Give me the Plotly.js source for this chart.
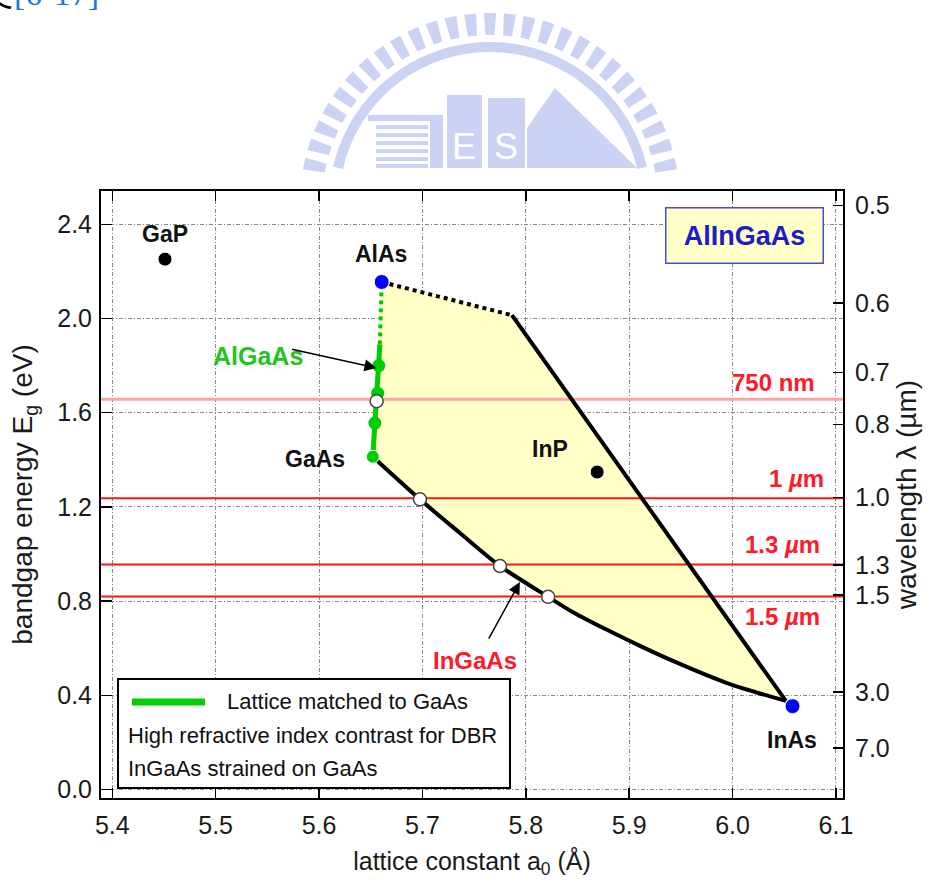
<!DOCTYPE html>
<html><head><meta charset="utf-8">
<script src="https://cdn.plot.ly/plotly-3.0.1.min.js"></script>
<style>html,body{margin:0;padding:0;background:#fff;}#chart{width:932px;height:888px;}</style>
</head><body><div id="chart"></div>
<script>
// ---------------- data ----------------
const compoundNames   = ['GaP', 'AlAs', 'GaAs', 'InP', 'InAs'];
const compoundLattice = [5.451, 5.6606, 5.652, 5.869, 6.058];
const compoundGap     = [2.252, 2.155, 1.413, 1.348, 0.354];

// AlGaAs (lattice matched to GaAs) line
const algaasSolidX  = [5.652, 5.6588];
const algaasSolidY  = [1.413, 1.89];
const algaasDottedX = [5.6588, 5.6606];
const algaasDottedY = [1.89, 2.155];
const algaasDotsX   = [5.6578, 5.6567, 5.654];
const algaasDotsY   = [1.80, 1.683, 1.556];

// open circles (DBR contrast points / strained InGaAs)
const openDotsX = [5.6557, 5.6976, 5.775, 5.8216];
const openDotsY = [1.649, 1.232, 0.949, 0.818];

// AlInGaAs region boundary
const topEdgeX   = [5.6606, 5.7866];
const topEdgeY   = [2.155, 2.014];
const rightEdgeX = [5.7866, 6.0515];
const rightEdgeY = [2.014, 0.376];
const ingaasX = [5.652, 5.6976, 5.7363, 5.775, 5.8216, 5.8456, 5.8785, 5.9104, 5.9423, 5.9946, 6.0515];
const ingaasY = [1.413, 1.232, 1.089, 0.949, 0.818, 0.753, 0.678, 0.610, 0.546, 0.452, 0.376];

// wavelength reference lines
const lineLabels = ['750 nm', '1 <i>µ</i>m', '1.3 <i>µ</i>m', '1.5 <i>µ</i>m'];
const lineEnergy = [1.657, 1.237, 0.955, 0.820];

// axes
const xTicks = [5.4, 5.5, 5.6, 5.7, 5.8, 5.9, 6.0, 6.1];
const yTicks = [0.0, 0.4, 0.8, 1.2, 1.6, 2.0, 2.4];
const wavelengthTicks = [0.5, 0.6, 0.7, 0.8, 1.0, 1.3, 1.5, 3.0, 7.0];
const xRange = [5.3891, 6.1068];
const yRange = [-0.0361, 2.5414];

// ---------------- helpers ----------------
const FONT = 'Liberation Sans, Arial, Helvetica, sans-serif';
const L = 101, R = 843, T = 191, B = 798;
const px = (x) => (x - L) / (R - L);
const py = (y) => (B - y) / (B - T);
const P = (x, y) => px(x).toFixed(5) + ',' + py(y).toFixed(5);

// ---------------- traces ----------------
const polyX = topEdgeX.concat([rightEdgeX[1]]).concat(ingaasX.slice().reverse()).concat([topEdgeX[0]]);
const polyY = topEdgeY.concat([rightEdgeY[1]]).concat(ingaasY.slice().reverse()).concat([topEdgeY[0]]);

const traces = [];
traces.push({x: polyX, y: polyY, type: 'scatter', mode: 'lines', fill: 'toself',
  fillcolor: '#ffffc6', line: {width: 0, shape: 'linear'}, hoverinfo: 'skip', showlegend: false});

lineEnergy.forEach((e, i) => {
  traces.push({x: xRange, y: [e, e], type: 'scatter', mode: 'lines', showlegend: false,
    hoverinfo: 'skip', line: {color: i === 0 ? '#ffa3a3' : '#ff1414', width: i === 0 ? 3 : 2}});
});

traces.push({x: topEdgeX, y: topEdgeY, type: 'scatter', mode: 'lines', showlegend: false,
  line: {color: '#000', width: 4, dash: 'dot'}});
traces.push({x: rightEdgeX, y: rightEdgeY, type: 'scatter', mode: 'lines', showlegend: false,
  line: {color: '#000', width: 4}});
traces.push({x: ingaasX, y: ingaasY, type: 'scatter', mode: 'lines', showlegend: false,
  line: {color: '#000', width: 4, shape: 'spline', smoothing: 0.8}});

traces.push({x: algaasDottedX, y: algaasDottedY, type: 'scatter', mode: 'lines', showlegend: false,
  line: {color: '#00cc00', width: 4, dash: 'dot'}});
traces.push({x: algaasSolidX, y: algaasSolidY, type: 'scatter', mode: 'lines', showlegend: false,
  line: {color: '#00cc00', width: 5}});

traces.push({x: algaasDotsX, y: algaasDotsY, type: 'scatter', mode: 'markers', showlegend: false,
  marker: {color: '#00cc00', size: 13, opacity: 1}});
traces.push({x: compoundLattice, y: compoundGap, type: 'scatter', mode: 'markers', showlegend: false,
  text: compoundNames,
  marker: {color: ['#000', '#0000ff', '#00cc00', '#000', '#0000ff'], size: [14, 15, 13, 14, 15], opacity: 1}});
traces.push({x: openDotsX, y: openDotsY, type: 'scatter', mode: 'markers', showlegend: false,
  marker: {color: '#fff', size: 13, opacity: 1, line: {color: '#444', width: 1.5}}});

// y2 carrier trace (invisible)
traces.push({x: [xRange[0]], y: [yRange[0]], yaxis: 'y2', type: 'scatter', mode: 'markers',
  marker: {opacity: 0}, showlegend: false, hoverinfo: 'skip'});

// ---------------- annotations ----------------
const ann = [];
const labelShift = {GaP: [0, 25], AlAs: [-1, 28], GaAs: [-58, -2], InP: [-47, 23], InAs: [-1, -34]};
compoundNames.forEach((n, i) => {
  ann.push({x: compoundLattice[i], y: compoundGap[i], xref: 'x', yref: 'y', text: '<b>' + n + '</b>',
    showarrow: false, xanchor: 'center', yanchor: 'middle', xshift: labelShift[n][0], yshift: labelShift[n][1],
    font: {family: FONT, size: 23, color: '#111'}});
});
ann.push({x: 5.541, y: 1.841, xref: 'x', yref: 'y', text: '<b>AlGaAs</b>', showarrow: false,
  xanchor: 'center', yanchor: 'middle', font: {family: FONT, size: 25, color: '#22c422'}});
ann.push({x: 5.7506, y: 0.546, xref: 'x', yref: 'y', text: '<b>InGaAs</b>', showarrow: false,
  xanchor: 'center', yanchor: 'middle', font: {family: FONT, size: 24, color: '#ff1a2a'}});
// arrows
ann.push({x: 5.6555, y: 1.79, xref: 'x', yref: 'y', ax: -86, ay: -19, text: '', showarrow: true,
  arrowhead: 2, arrowsize: 1.6, arrowwidth: 1.5, arrowcolor: '#000'});
ann.push({x: 5.7943, y: 0.881, xref: 'x', yref: 'y', ax: -32, ay: 58, text: '', showarrow: true,
  arrowhead: 2, arrowsize: 1.6, arrowwidth: 1.5, arrowcolor: '#000'});
// wavelength line labels
const lineLabelShift = [17, 20, 20, -20];
const lineLabelRight = [817, 826, 822, 822];
lineEnergy.forEach((e, i) => {
  ann.push({x: px(lineLabelRight[i]), y: e, xref: 'paper', yref: 'y', xanchor: 'right', yanchor: 'middle',
    text: '<b>' + lineLabels[i] + '</b>', showarrow: false, yshift: lineLabelShift[i],
    font: {family: FONT, size: 24, color: '#ff1a2a'}});
});
// AlInGaAs box
ann.push({x: px(744.5), y: py(235.5), xref: 'paper', yref: 'paper', xanchor: 'center', yanchor: 'middle',
  text: '<b>AlInGaAs</b>', showarrow: false, width: 154, height: 52, borderpad: 1, bgcolor: '#ffffc8',
  bordercolor: '#4a4ae0', borderwidth: 1.5, font: {family: FONT, size: 27, color: '#1c1cc8'}});
// legend texts
ann.push({x: px(225), y: py(701), xref: 'paper', yref: 'paper', xanchor: 'left', yanchor: 'middle', showarrow: false,
  text: 'Lattice matched to GaAs', font: {family: FONT, size: 22, color: '#111'}});
ann.push({x: px(126), y: py(735), xref: 'paper', yref: 'paper', xanchor: 'left', yanchor: 'middle', showarrow: false,
  text: 'High refractive index contrast for DBR', font: {family: FONT, size: 22, color: '#111'}});
ann.push({x: px(126), y: py(768), xref: 'paper', yref: 'paper', xanchor: 'left', yanchor: 'middle', showarrow: false,
  text: 'InGaAs strained on GaAs', font: {family: FONT, size: 22, color: '#111'}});
// reference tag at top-left (cut by page edge)
ann.push({x: px(101), y: py(14), xref: 'paper', yref: 'paper', xanchor: 'right', yanchor: 'bottom',
  showarrow: false, text: '文<span style="color:#1f78d1">[6-17]</span>',
  font: {family: 'Liberation Serif, Times New Roman, serif', size: 34, color: '#000'}});
// watermark letters
ann.push({x: px(464), y: py(147), xref: 'paper', yref: 'paper', xanchor: 'center', yanchor: 'middle',
  showarrow: false, text: 'E', font: {family: FONT, size: 36, color: '#ffffff'}});
ann.push({x: px(506), y: py(147), xref: 'paper', yref: 'paper', xanchor: 'center', yanchor: 'middle',
  showarrow: false, text: 'S', font: {family: FONT, size: 36, color: '#ffffff'}});

// ---------------- shapes ----------------
const WM = '#cbd2f4';
const shapes = [];
// legend box
shapes.push({type: 'rect', xref: 'paper', yref: 'paper', x0: px(118), x1: px(510), y0: py(788), y1: py(679),
  fillcolor: '#fff', line: {color: '#000', width: 2}, layer: 'above'});
shapes.push({type: 'line', xref: 'paper', yref: 'paper', x0: px(132), x1: px(205), y0: py(702), y1: py(702),
  line: {color: '#00d000', width: 7}, layer: 'above'});
// watermark: radial bars
const cx = 490, cy = 203;
for (let a = 12; a <= 168.1; a += 6) {
  const t = a * Math.PI / 180;
  const ux = Math.cos(t), uy = -Math.sin(t), vx = Math.sin(t), vy = Math.cos(t);
  const r1 = 168, r2 = 190, w1 = 4.5, w2 = 6;
  const pts = [
    [cx + r1 * ux - w1 * vx, cy + r1 * uy - w1 * vy],
    [cx + r2 * ux - w2 * vx, cy + r2 * uy - w2 * vy],
    [cx + r2 * ux + w2 * vx, cy + r2 * uy + w2 * vy],
    [cx + r1 * ux + w1 * vx, cy + r1 * uy + w1 * vy]];
  shapes.push({type: 'path', xref: 'paper', yref: 'paper', layer: 'below', fillcolor: WM, line: {width: 0},
    path: 'M' + pts.map(p => P(p[0], p[1])).join('L') + 'Z'});
}
// watermark: arc band
(function () {
  const ri = 151, ro = 161, a0 = 13, a1 = 167;
  let d = '';
  for (let a = a0; a <= a1 + 0.01; a += 2) {
    const t = a * Math.PI / 180;
    d += (d ? 'L' : 'M') + P(cx + ro * Math.cos(t), cy - ro * Math.sin(t));
  }
  for (let a = a1; a >= a0 - 0.01; a -= 2) {
    const t = a * Math.PI / 180;
    d += 'L' + P(cx + ri * Math.cos(t), cy - ri * Math.sin(t));
  }
  shapes.push({type: 'path', xref: 'paper', yref: 'paper', layer: 'below', fillcolor: WM, line: {width: 0}, path: d + 'Z'});
})();
// watermark: blocks
const wmRects = [[368, 115, 443, 121], [430, 115, 443, 168],
  [376, 125, 428, 129], [376, 133, 428, 137], [376, 141, 428, 145], [376, 149, 428, 153], [376, 157, 428, 161], [376, 164, 428, 168],
  [447, 95, 482, 168], [488, 98, 525, 168]];
wmRects.forEach(r => shapes.push({type: 'rect', xref: 'paper', yref: 'paper', layer: 'below',
  x0: px(r[0]), x1: px(r[2]), y0: py(r[3]), y1: py(r[1]), fillcolor: WM, line: {width: 0}}));
shapes.push({type: 'path', xref: 'paper', yref: 'paper', layer: 'below', fillcolor: WM, line: {width: 0},
  path: 'M' + P(527, 168) + 'L' + P(527, 128) + 'L' + P(555, 88) + 'L' + P(637, 168) + 'Z'});

// ---------------- layout ----------------
const tickFont = {family: FONT, size: 25, color: '#1a1a1a'};
const layout = {
  width: 932, height: 888,
  margin: {l: L, r: 932 - R, t: T, b: 888 - B, pad: 0},
  paper_bgcolor: '#fff', plot_bgcolor: '#fff',
  showlegend: false,
  xaxis: {range: xRange, tickvals: xTicks, ticktext: xTicks.map(v => v.toFixed(1)),
    ticks: 'inside', ticklen: 10, tickwidth: 1.5, tickcolor: '#000',
    showline: true, linecolor: '#000', linewidth: 2, mirror: 'ticks',
    showgrid: true, gridcolor: '#8a8a8a', gridwidth: 1, griddash: '4px,2px,1px,2px', zeroline: false,
    tickfont: tickFont, ticklabelstandoff: 4,
    title: {text: 'lattice constant a<sub>0</sub> (Å)', font: {family: FONT, size: 25, color: '#1a1a1a'}, standoff: 14}},
  yaxis: {range: yRange, tickvals: yTicks, ticktext: yTicks.map(v => v.toFixed(1)),
    ticks: 'inside', ticklen: 11, tickwidth: 1.5, tickcolor: '#000',
    showline: true, linecolor: '#000', linewidth: 2, mirror: false,
    showgrid: true, gridcolor: '#8a8a8a', gridwidth: 1, griddash: '4px,2px,1px,2px', zeroline: false,
    tickfont: tickFont, ticklabelstandoff: 2,
    title: {text: 'bandgap energy E<sub>g</sub> (eV)', font: {family: FONT, size: 28, color: '#1a1a1a'}, standoff: 16}},
  yaxis2: {overlaying: 'y', side: 'right', range: yRange,
    tickvals: wavelengthTicks.map(l => 1.24 / l), ticktext: wavelengthTicks.map(v => v.toFixed(1)),
    ticks: 'inside', ticklen: 10, tickwidth: 1.5, tickcolor: '#000',
    showline: true, linecolor: '#000', linewidth: 2, showgrid: false, zeroline: false,
    tickfont: tickFont, ticklabelstandoff: 5,
    title: {text: 'wavelength λ (µm)', font: {family: FONT, size: 28, color: '#1a1a1a'}, standoff: 8}},
  annotations: ann,
  shapes: shapes
};

Plotly.newPlot('chart', traces, layout, {staticPlot: true, displayModeBar: false});
</script>
</body></html>
